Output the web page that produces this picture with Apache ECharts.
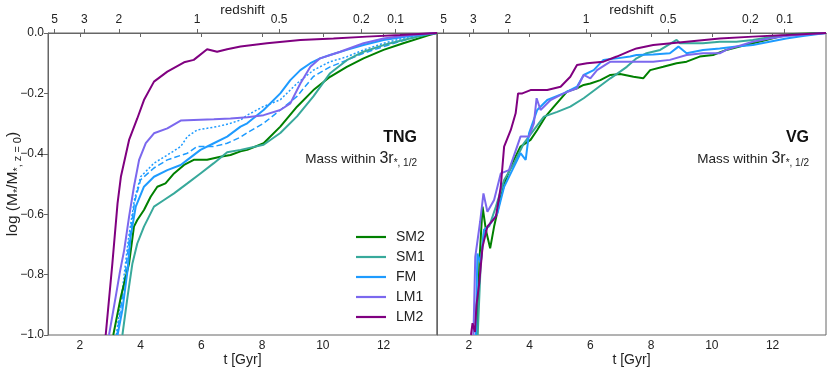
<!DOCTYPE html>
<html>
<head>
<meta charset="utf-8">
<script src="https://cdn.jsdelivr.net/npm/echarts@6/dist/echarts.min.js"></script>
<style>
  html, body { margin: 0; padding: 0; background: #fff; }
  #chart { width: 830px; height: 372px; }
</style>
</head>
<body>
<div id="chart"></div>
<script>
// run names and colours
const runNames = ['SM2', 'SM1', 'FM', 'LM1', 'LM2'];
const runColors = ['#008000', '#38a99b', '#1e9bff', '#7b68ee', '#800080'];

// top axis: redshift labels and the cosmic time they sit at
const zLabels = ['5', '3', '2', '1', '0.5', '0.2', '0.1'];
const zTimes = [1.17, 2.15, 3.28, 5.86, 8.56, 11.27, 12.4];
const tTicks = [2, 4, 6, 8, 10, 12];

// TNG panel, [t (Gyr), log(M/M_z0)]
const tngSM2 = [[3.10,-1.0],[3.35,-0.873],[3.62,-0.763],[3.78,-0.641],[3.89,-0.619],[4.11,-0.586],[4.33,-0.542],[4.55,-0.509],[4.82,-0.498],[5.1,-0.465],[5.43,-0.437],[5.75,-0.42],[6.19,-0.42],[6.63,-0.41],[6.96,-0.404],[7.29,-0.392],[7.51,-0.387],[8.05,-0.365],[8.6,-0.31],[9.15,-0.244],[9.69,-0.189],[10.24,-0.145],[10.79,-0.112],[11.34,-0.084],[12.0,-0.056],[12.65,-0.034],[13.5,-0.007],[13.76,0]];
const tngSM1 = [[3.40,-1.0],[3.57,-0.873],[3.73,-0.763],[3.89,-0.697],[4.11,-0.641],[4.44,-0.575],[4.77,-0.553],[5.1,-0.531],[5.54,-0.498],[5.97,-0.465],[6.41,-0.431],[6.85,-0.395],[7.29,-0.387],[8.05,-0.37],[8.6,-0.331],[9.15,-0.276],[9.69,-0.21],[10.24,-0.133],[10.79,-0.09],[11.34,-0.062],[12.0,-0.04],[12.65,-0.023],[13.5,-0.003],[13.76,0]];
const tngFM = [[3.24,-1.0],[3.40,-0.917],[3.57,-0.785],[3.67,-0.674],[3.84,-0.575],[4.11,-0.509],[4.44,-0.476],[4.88,-0.454],[5.32,-0.437],[5.54,-0.42],[5.97,-0.387],[6.41,-0.365],[6.85,-0.343],[7.29,-0.31],[7.51,-0.299],[8.05,-0.255],[8.6,-0.2],[8.93,-0.156],[9.26,-0.123],[9.59,-0.1],[9.91,-0.084],[10.24,-0.073],[10.79,-0.056],[11.34,-0.04],[12.0,-0.023],[12.87,-0.01],[13.76,0]];
const tngFMdash = [[3.22,-1.0],[3.42,-0.86],[3.62,-0.69],[3.8,-0.56],[4.0,-0.486],[4.44,-0.447],[4.88,-0.42],[5.54,-0.398],[5.86,-0.376],[6.41,-0.376],[6.85,-0.365],[7.29,-0.345],[7.51,-0.33],[8.05,-0.299],[8.6,-0.255],[9.15,-0.21],[9.69,-0.144],[10.24,-0.112],[10.79,-0.09],[11.34,-0.067],[12.0,-0.045],[12.87,-0.018],[13.76,0]];
const tngFMdot = [[3.2,-1.0],[3.4,-0.85],[3.6,-0.68],[3.8,-0.55],[4.0,-0.476],[4.44,-0.431],[4.88,-0.404],[5.32,-0.376],[5.54,-0.343],[5.86,-0.321],[6.52,-0.31],[6.96,-0.299],[7.29,-0.288],[7.51,-0.272],[8.05,-0.243],[8.6,-0.221],[9.15,-0.167],[9.69,-0.123],[10.24,-0.095],[10.79,-0.079],[11.34,-0.056],[12.0,-0.034],[12.87,-0.012],[13.76,0]];
const tngLM1 = [[2.96,-1.0],[3.18,-0.873],[3.32,-0.79],[3.46,-0.718],[3.62,-0.608],[3.78,-0.509],[3.95,-0.42],[4.17,-0.365],[4.44,-0.332],[4.88,-0.316],[5.32,-0.29],[5.75,-0.288],[6.41,-0.286],[6.96,-0.283],[7.51,-0.279],[8.05,-0.272],[8.6,-0.255],[8.93,-0.233],[9.26,-0.167],[9.59,-0.112],[9.91,-0.084],[10.57,-0.062],[11.34,-0.034],[12.0,-0.018],[12.87,-0.007],[13.76,0]];
const tngLM2 = [[2.85,-1.0],[3.07,-0.763],[3.24,-0.564],[3.35,-0.476],[3.62,-0.354],[3.89,-0.283],[4.11,-0.222],[4.44,-0.161],[4.88,-0.128],[5.43,-0.097],[5.75,-0.089],[6.19,-0.054],[6.52,-0.062],[6.85,-0.054],[7.29,-0.045],[8.16,-0.034],[9.26,-0.023],[10.35,-0.018],[11.45,-0.012],[12.54,-0.007],[13.76,0]];

// VG panel
const vgSM2 = [[2.27,-1.0],[2.35,-0.75],[2.45,-0.575],[2.56,-0.652],[2.7,-0.713],[2.83,-0.641],[3.05,-0.542],[3.21,-0.487],[3.43,-0.431],[3.7,-0.376],[4.03,-0.354],[4.25,-0.321],[4.52,-0.277],[4.8,-0.244],[5.23,-0.194],[5.56,-0.183],[5.78,-0.172],[6.0,-0.167],[6.33,-0.156],[6.66,-0.139],[6.98,-0.136],[7.42,-0.145],[7.74,-0.15],[7.97,-0.123],[8.4,-0.112],[8.84,-0.1],[9.17,-0.095],[9.6,-0.078],[10.04,-0.073],[10.48,-0.056],[10.92,-0.045],[11.35,-0.034],[11.79,-0.023],[12.23,-0.012],[12.67,-0.003],[13.76,0]];
const vgSM1 = [[2.29,-1.0],[2.39,-0.763],[2.5,-0.652],[2.67,-0.64],[2.89,-0.575],[3.16,-0.487],[3.49,-0.431],[3.81,-0.365],[4.14,-0.321],[4.47,-0.277],[4.91,-0.261],[5.34,-0.244],[5.78,-0.216],[6.22,-0.183],[6.66,-0.15],[6.98,-0.128],[7.2,-0.112],[7.52,-0.084],[7.85,-0.067],[8.3,-0.056],[8.84,-0.023],[8.95,-0.034],[9.71,-0.034],[10.26,-0.029],[10.81,-0.029],[11.35,-0.023],[11.9,-0.014],[12.45,-0.007],[13.76,0]];
const vgFM = [[2.23,-1.0],[2.28,-0.73],[2.39,-0.763],[2.5,-0.652],[2.72,-0.63],[2.94,-0.597],[3.16,-0.509],[3.43,-0.454],[3.7,-0.398],[3.87,-0.42],[3.98,-0.332],[4.25,-0.255],[4.58,-0.222],[5.12,-0.2],[5.56,-0.178],[5.78,-0.139],[6.11,-0.123],[6.43,-0.089],[6.87,-0.084],[7.31,-0.078],[7.52,-0.073],[8.07,-0.071],[8.62,-0.067],[8.9,-0.045],[9.17,-0.067],[9.71,-0.056],[10.26,-0.051],[10.81,-0.045],[11.35,-0.04],[11.9,-0.029],[12.45,-0.018],[13.0,-0.01],[13.76,0]];
const vgLM1 = [[2.15,-1.0],[2.21,-0.741],[2.37,-0.625],[2.48,-0.531],[2.61,-0.592],[2.83,-0.553],[3.05,-0.465],[3.32,-0.454],[3.7,-0.343],[3.98,-0.343],[4.14,-0.299],[4.23,-0.216],[4.36,-0.255],[4.69,-0.222],[5.12,-0.2],[5.56,-0.183],[5.78,-0.139],[6.0,-0.15],[6.22,-0.123],[6.66,-0.095],[7.31,-0.095],[8.07,-0.095],[8.62,-0.089],[9.17,-0.073],[9.71,-0.067],[10.26,-0.067],[10.48,-0.056],[10.81,-0.045],[11.35,-0.029],[11.9,-0.018],[12.45,-0.01],[13.76,0]];
const vgLM2 = [[2.07,-1.0],[2.12,-0.961],[2.2,-0.99],[2.25,-0.9],[2.34,-0.829],[2.45,-0.708],[2.61,-0.641],[2.89,-0.608],[3.05,-0.509],[3.16,-0.376],[3.38,-0.321],[3.54,-0.266],[3.62,-0.2],[3.76,-0.2],[4.03,-0.189],[4.58,-0.189],[5.02,-0.178],[5.34,-0.145],[5.56,-0.106],[5.89,-0.1],[6.43,-0.095],[6.87,-0.078],[7.31,-0.059],[7.52,-0.051],[8.07,-0.04],[9.17,-0.029],[10.26,-0.018],[11.35,-0.012],[12.45,-0.007],[13.76,0]];

const tngRuns = [tngSM2, tngSM1, tngFM, tngLM1, tngLM2];
const vgRuns = [vgSM2, vgSM1, vgFM, vgLM1, vgLM2];

const txt = '#222';
const axisCol = '#666';
const font = 'Liberation Sans, Arial, sans-serif';

const chart = echarts.init(document.getElementById('chart'));

function lineSeries(name, data, color, panel, type, width) {
  return {
    name: name,
    type: 'line',
    data: data,
    xAxisIndex: panel * 2,
    yAxisIndex: panel,
    symbol: 'none',
    showSymbol: false,
    clip: true,
    lineStyle: { color: color, width: width || 2, type: type || 'solid' },
    itemStyle: { color: color },
    emphasis: { disabled: true },
    animation: false
  };
}

const series = [];
// TNG: FM variants drawn under the solid lines
series.push(lineSeries('FM dash', tngFMdash, runColors[2], 0, [6, 3], 1.5));
series.push(lineSeries('FM dot', tngFMdot, runColors[2], 0, [2, 2], 1.5));
tngRuns.forEach((d, i) => series.push(lineSeries(runNames[i], d, runColors[i], 0)));
vgRuns.forEach((d, i) => series.push(lineSeries(runNames[i], d, runColors[i], 1)));

const grids = [
  { left: 48, right: 393, top: 33, bottom: 37 },
  { left: 437, right: 4, top: 33, bottom: 37 }
];

const xAxes = [];
const yAxes = [];
grids.forEach((g, i) => {
  g.show = true;
  g.borderColor = axisCol;
  g.borderWidth = 1;
  g.outerBoundsMode = 'none';
  g.containLabel = false;
  xAxes.push({
    type: 'value', gridIndex: i, position: 'bottom',
    min: 0.95, max: 13.76,
    name: 't [Gyr]', nameLocation: 'middle', nameGap: 18, nameMoveOverlap: false,
    nameTextStyle: { color: txt, fontSize: 14, fontFamily: font, verticalAlign: 'top' },
    axisLine: { lineStyle: { color: axisCol } },
    axisTick: { customValues: tTicks, length: 4, lineStyle: { color: axisCol } },
    axisLabel: { customValues: tTicks, color: txt, fontSize: 12, fontFamily: font, margin: 5 },
    splitLine: { show: false }
  });
  xAxes.push({
    type: 'value', gridIndex: i, position: 'top',
    min: 0.95, max: 13.76,
    name: 'redshift', nameLocation: 'middle', nameGap: 16, nameMoveOverlap: false,
    nameTextStyle: { color: txt, fontSize: 13.5, fontFamily: font, verticalAlign: 'bottom' },
    axisLine: { lineStyle: { color: axisCol } },
    axisTick: { customValues: zTimes, length: 4, lineStyle: { color: axisCol } },
    axisLabel: {
      customValues: zTimes, color: txt, fontSize: 12, fontFamily: font, margin: 7,
      formatter: v => {
        const k = zTimes.findIndex(z => Math.abs(z - v) < 1e-6);
        return k >= 0 ? zLabels[k] : '';
      }
    },
    splitLine: { show: false }
  });
  yAxes.push({
    type: 'value', gridIndex: i,
    min: -1, max: 0, interval: 0.2,
    name: i === 0 ? '{a|log (M}{s|*}{a|/M}{s|*, z = 0}{a|)}' : '',
    nameLocation: 'middle', nameGap: 25, nameRotate: 90, nameMoveOverlap: false,
    nameTextStyle: {
      color: txt, fontFamily: font,
      rich: {
        a: { fontSize: 15.5, color: txt, fontFamily: font, lineHeight: 20 },
        s: { fontSize: 11, color: txt, fontFamily: font, lineHeight: 11, verticalAlign: 'bottom' }
      }
    },
    axisLine: { show: true, lineStyle: { color: axisCol } },
    axisTick: { show: i === 0, length: 4, lineStyle: { color: axisCol } },
    axisLabel: {
      show: i === 0, color: txt, fontSize: 12, fontFamily: font, margin: 4,
      formatter: v => v.toFixed(1).replace('-', '\u2212')
    },
    splitLine: { show: false }
  });
});

function panelText(right, label) {
  return [
    {
      type: 'text', right: right, top: 130,
      style: { text: label, fill: '#111', font: 'bold 16px ' + font }
    },
    {
      type: 'text', right: right, top: 151,
      style: {
        text: '{a|Mass within }{b|3r}{s|*, 1/2}',
        rich: {
          a: { fontSize: 13.5, fill: txt, fontFamily: font, lineHeight: 19 },
          b: { fontSize: 16, fill: txt, fontFamily: font, lineHeight: 19 },
          s: { fontSize: 10, fill: txt, fontFamily: font, lineHeight: 10, verticalAlign: 'bottom' }
        }
      }
    }
  ];
}

const option = {
  backgroundColor: '#fff',
  animation: false,
  grid: grids,
  xAxis: xAxes,
  yAxis: yAxes,
  legend: {
    data: runNames,
    orient: 'vertical',
    left: 356, top: 230,
    icon: 'path://M0,0H30V2.2H0Z',
    itemWidth: 30, itemHeight: 14, itemGap: 6,
    padding: 0,
    textStyle: { color: txt, fontSize: 14, fontFamily: font, lineHeight: 14, padding: [0, 0, 0, 5] },
    selectedMode: false
  },
  graphic: panelText(413, 'TNG').concat(panelText(21, 'VG')),
  series: series
};

chart.setOption(option);
</script>
</body>
</html>
